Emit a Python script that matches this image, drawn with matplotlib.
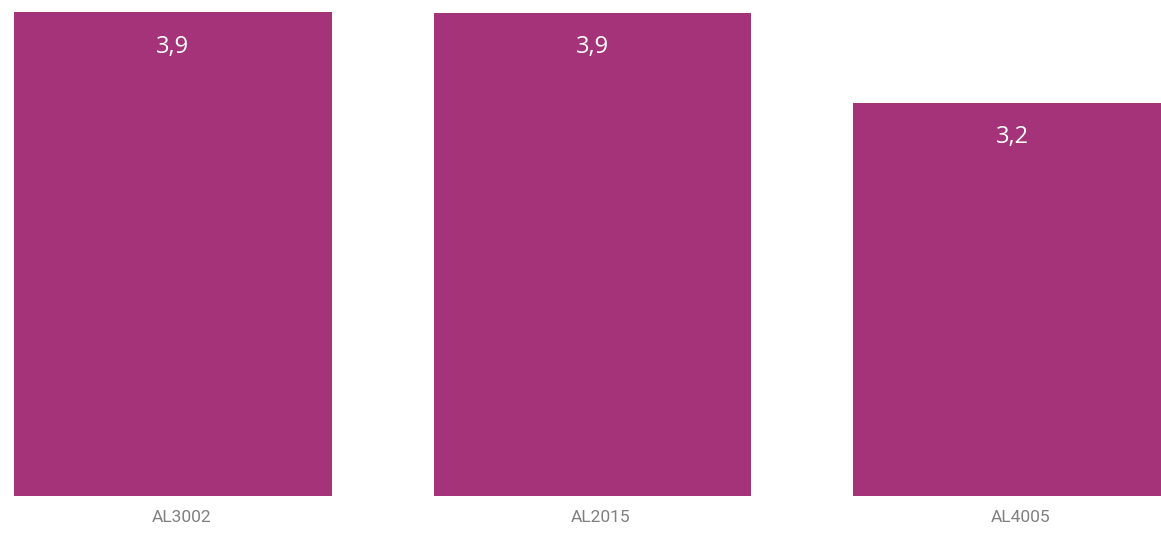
import matplotlib.pyplot as plt
import numpy as np

categories = ['AL3002', 'AL2015', 'AL4005']
values = [3.9, 3.895, 3.17]
labels = ['3,9', '3,9', '3,2']

fig = plt.figure(figsize=(11.61, 5.36), dpi=100)
ax = fig.add_axes([0, 40 / 536, 1, 496 / 536])

x = np.arange(len(categories))
bars = ax.bar(x, values, width=0.757, color='#A5337A')

# value labels inside the top of each bar
for bar, lab in zip(bars, labels):
    ax.text(bar.get_x() + bar.get_width() / 2, bar.get_height() - 0.275, lab,
            ha='center', va='center', color='white', fontsize=17,
            family='Open Sans')

ax.set_xlim(-0.412, 2.355)
ax.set_ylim(0, 4.0)
ax.set_xticks(x + 0.02)
ax.set_xticklabels(categories, family='Roboto', fontsize=12.5, color='#808080')
ax.tick_params(axis='x', length=0, pad=10)
ax.set_yticks([])
for s in ax.spines.values():
    s.set_visible(False)

plt.savefig('out.png', dpi=100)
